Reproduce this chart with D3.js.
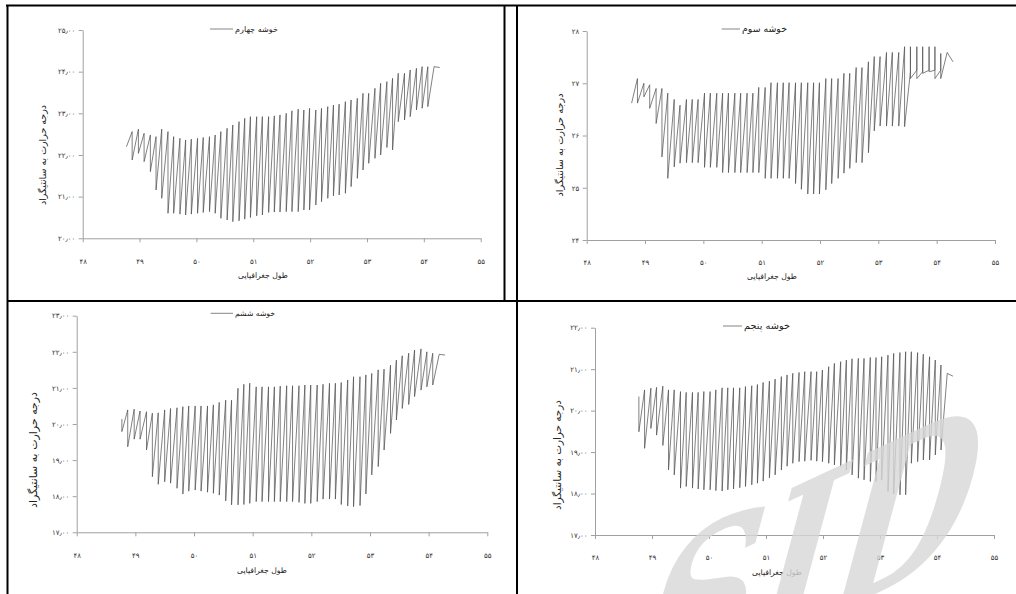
<!DOCTYPE html>
<html>
<head>
<meta charset="utf-8">
<script src="https://cdn.jsdelivr.net/npm/d3@7"></script>
<style>
body { margin: 0; background: #fff; }
svg { display: block; }
text { font-family: "DejaVu Sans", sans-serif; }
</style>
</head>
<body>
<svg width="1016" height="594"></svg>
<script>
// longitude of each grid column (same for every cluster)
const lon = [48.77, 48.87, 48.98, 49.08, 49.19, 49.29, 49.39, 49.50, 49.60, 49.71,
    49.81, 49.91, 50.02, 50.12, 50.23, 50.33, 50.43, 50.54, 50.64, 50.75,
    50.85, 50.95, 51.06, 51.16, 51.27, 51.37, 51.47, 51.58, 51.68, 51.79,
    51.89, 51.99, 52.10, 52.20, 52.31, 52.41, 52.51, 52.62, 52.72, 52.83,
    52.93, 53.03, 53.14, 53.24, 53.35, 53.45, 53.55, 53.66, 53.76, 53.87,
    53.97, 54.07, 54.18, 54.28];

// temperatures met along each column, in drawing order
const cluster4 = [[22.20], [22.56, 21.88], [22.62, 22.04], [22.52, 21.84], [22.48, 21.60],
    [22.44, 21.16], [22.62, 20.96], [22.56, 20.60], [22.44, 20.60], [22.40, 20.58],
    [22.36, 20.56], [22.38, 20.58], [22.40, 20.60], [22.42, 20.62], [22.44, 20.64],
    [22.48, 20.60], [22.56, 20.48], [22.64, 20.44], [22.72, 20.40], [22.80, 20.42],
    [22.88, 20.46], [22.92, 20.50], [22.92, 20.54], [22.92, 20.56], [22.92, 20.62],
    [22.94, 20.63], [22.96, 20.63], [23.00, 20.64], [23.06, 20.64], [23.10, 20.64],
    [23.08, 20.68], [23.12, 20.68], [23.08, 20.80], [23.12, 20.88], [23.16, 20.96],
    [23.20, 21.02], [23.22, 21.04], [23.28, 21.08], [23.32, 21.24], [23.36, 21.44],
    [23.48, 21.64], [23.48, 21.80], [23.60, 21.92], [23.72, 22.00], [23.76, 22.18],
    [23.84, 22.12], [23.96, 22.80], [23.96, 22.84], [24.04, 22.92], [24.08, 23.08],
    [24.12, 23.12], [24.12, 23.16], [24.12], [24.10]];

const cluster3 = [[26.62], [27.09, 26.62], [27.00, 26.74], [26.97, 26.52], [26.90, 26.23],
    [26.90, 25.59], [26.81, 25.18], [26.69, 25.40], [26.58, 25.47], [26.69, 25.48],
    [26.69, 25.48], [26.69, 25.48], [26.81, 25.39], [26.81, 25.39], [26.81, 25.39],
    [26.81, 25.29], [26.81, 25.29], [26.81, 25.29], [26.81, 25.29], [26.81, 25.29],
    [26.81, 25.29], [26.92, 25.29], [26.92, 25.18], [27.01, 25.18], [27.01, 25.18],
    [27.01, 25.18], [27.01, 25.18], [27.01, 25.08], [27.01, 24.97], [27.01, 24.88],
    [27.01, 24.88], [27.01, 24.88], [27.09, 24.96], [27.09, 25.08], [27.09, 25.18],
    [27.19, 25.28], [27.19, 25.37], [27.30, 25.48], [27.30, 25.48], [27.41, 25.67],
    [27.51, 26.09], [27.51, 26.18], [27.59, 26.18], [27.59, 26.18], [27.59, 26.18],
    [27.70, 26.17], [27.22, 27.70, 27.09], [27.25, 27.70, 27.09], [27.22, 27.70, 27.19],
    [27.25, 27.70, 27.22], [27.25, 27.70, 27.09], [27.25, 27.57, 27.09], [27.59], [27.41]];

const cluster6 = [[20.14, 19.79], [20.39, 19.37], [20.41, 19.58], [20.36, 19.58], [20.34, 19.28],
    [20.30, 18.54], [20.31, 18.33], [20.39, 18.40], [20.43, 18.36], [20.45, 18.22],
    [20.48, 18.06], [20.50, 18.14], [20.50, 18.17], [20.50, 18.14], [20.50, 18.11],
    [20.53, 18.08], [20.60, 18.03], [20.66, 17.87], [20.66, 17.76], [20.99, 17.76],
    [21.10, 17.77], [21.13, 17.80], [21.03, 17.85], [21.03, 17.85], [21.03, 17.85],
    [21.03, 17.85], [21.05, 17.85], [21.06, 17.85], [21.06, 17.85], [21.06, 17.83],
    [21.08, 17.80], [21.08, 17.80], [21.08, 17.85], [21.10, 17.92], [21.13, 17.92],
    [21.13, 17.92], [21.15, 17.77], [21.22, 17.73], [21.31, 17.71], [21.31, 17.74],
    [21.36, 18.06], [21.40, 18.59], [21.50, 18.82], [21.52, 19.28], [21.63, 19.74],
    [21.77, 20.11], [21.89, 20.43], [21.96, 20.54], [22.05, 20.76], [22.08, 20.94],
    [22.00, 21.03], [21.96, 21.08], [21.93], [21.91]];

const cluster5 = [[20.34, 19.49], [20.50, 19.09], [20.54, 19.57], [20.56, 19.41], [20.59, 19.16],
    [20.50, 18.57], [20.50, 18.45], [20.46, 18.13], [20.44, 18.17], [20.44, 18.13],
    [20.44, 18.11], [20.46, 18.09], [20.46, 18.09], [20.50, 18.07], [20.55, 18.06],
    [20.55, 18.09], [20.55, 18.11], [20.55, 18.14], [20.58, 18.17], [20.60, 18.21],
    [20.63, 18.25], [20.68, 18.30], [20.71, 18.38], [20.76, 18.45], [20.82, 18.57],
    [20.86, 18.66], [20.90, 18.73], [20.92, 18.77], [20.94, 18.78], [20.94, 18.80],
    [20.94, 18.78], [20.98, 18.77], [21.06, 18.73], [21.14, 18.69], [21.18, 18.65],
    [21.22, 18.57], [21.25, 18.45], [21.26, 18.37], [21.26, 18.33], [21.28, 18.29],
    [21.28, 18.29], [21.30, 18.33], [21.34, 18.05], [21.38, 17.99], [21.40, 17.97],
    [21.42, 17.97], [21.42, 18.73], [21.40, 18.77], [21.36, 18.81], [21.30, 18.81],
    [21.22, 18.93], [21.10, 19.05], [20.90], [20.83]];

const xTicks = [48, 49, 50, 51, 52, 53, 54, 55];
const yTicks4 = [20, 21, 22, 23, 24, 25];
const yTicks3 = [24, 25, 26, 27, 28];
const yTicks6 = [17, 18, 19, 20, 21, 22, 23];
const yTicks5 = [17, 18, 19, 20, 21, 22];

const xTitle = 'طول جغرافیایی';
const yTitle = 'درجه حرارت به سانتیگراد';

const faDigits = '۰۱۲۳۴۵۶۷۸۹';

function toFa(s) {
    return String(s).replace(/[0-9]/g, function (d) {
        return faDigits[d];
    }).replace('.', '٫');
}

// shrink or grow a text until it is as wide as the one in the scan
function fitText(sel, width) {
    let w = sel.node().getComputedTextLength();
    let size = parseFloat(sel.style('font-size'));
    if (w > 0) {
        sel.style('font-size', (size * width / w).toFixed(2) + 'px');
    }
    return sel;
}

const panels = [
    {name: 'خوشه چهارم', data: cluster4, yDomain: [20, 25], yTicks: yTicks4, fmt: d3.format('.2f'),
        xr: [82.7, 480.7], yr: [238.3, 30], legend: [210, 233, 29, 43],
        yTitlePos: [43, 155, 100], xTitlePos: [263, 275]},
    {name: 'خوشه سوم', data: cluster3, yDomain: [24, 28], yTicks: yTicks3, fmt: d3.format('d'),
        xr: [586.7, 995], yr: [240, 31], legend: [721.7, 740, 29, 45],
        yTitlePos: [560, 145, 103], xTitlePos: [772, 276]},
    {name: 'خوشه ششم', data: cluster6, yDomain: [17, 23], yTicks: yTicks6, fmt: d3.format('.2f'),
        xr: [76.7, 487.3], yr: [532.3, 315.7], legend: [210.7, 233, 313.3, 40],
        yTitlePos: [33, 450, 116], xTitlePos: [262, 570]},
    {name: 'خوشه پنجم', data: cluster5, yDomain: [17, 22], yTicks: yTicks5, fmt: d3.format('.2f'),
        xr: [595, 994], yr: [535, 327.7], legend: [723, 742, 326, 46],
        yTitlePos: [557, 455, 110], xTitlePos: [777, 572]}
];

const svg = d3.select('svg');

function drawPanel(p) {
    let x = d3.scaleLinear().domain([48, 55]).range(p.xr);
    let y = d3.scaleLinear().domain(p.yDomain).range(p.yr);
    let g = svg.append('g');

    let yAxis = g.append('g')
        .attr('transform', 'translate(' + p.xr[0] + ',0)')
        .call(d3.axisLeft(y).tickValues(p.yTicks).tickSize(4).tickSizeOuter(0).tickPadding(3.5)
            .tickFormat(function (d) { return toFa(p.fmt(d)); }));

    let xAxis = g.append('g')
        .attr('transform', 'translate(0,' + p.yr[0] + ')')
        .call(d3.axisBottom(x).tickValues(xTicks).tickSize(4).tickSizeOuter(0).tickPadding(16.5)
            .tickFormat(function (d) { return toFa(d); }));

    [yAxis, xAxis].forEach(function (a) {
        a.select('.domain').attr('stroke', '#a0a0a0');
        a.selectAll('.tick line').attr('stroke', '#a0a0a0');
        a.selectAll('.tick text').attr('fill', '#333').style('font-size', '7px')
            .style('font-family', '"DejaVu Sans", sans-serif');
    });

    // the zigzag series
    let pts = [];
    p.data.forEach(function (col, i) {
        col.forEach(function (v) {
            pts.push([lon[i], v]);
        });
    });

    let line = d3.line()
        .x(function (d) { return x(d[0]); })
        .y(function (d) { return y(d[1]); });

    g.append('path')
        .datum(pts)
        .attr('d', line)
        .attr('fill', 'none')
        .attr('stroke', '#4a4a4a')
        .attr('stroke-width', 0.7);

    // legend
    g.append('line')
        .attr('x1', p.legend[0]).attr('x2', p.legend[1])
        .attr('y1', p.legend[2]).attr('y2', p.legend[2])
        .attr('stroke', '#666').attr('stroke-width', 0.8);
    let lt = g.append('text')
        .attr('x', p.legend[1] + 2 + p.legend[3] / 2).attr('y', p.legend[2])
        .attr('dy', '0.35em')
        .attr('text-anchor', 'middle')
        .style('font-size', '8px')
        .attr('fill', '#222')
        .text(p.name);
    fitText(lt, p.legend[3]);

    let xt = g.append('text')
        .attr('x', p.xTitlePos[0])
        .attr('y', p.xTitlePos[1])
        .attr('dy', '0.35em')
        .attr('text-anchor', 'middle')
        .style('font-size', '8px')
        .attr('fill', '#222')
        .text(xTitle);
    fitText(xt, 50);

    let yt = g.append('text')
        .attr('transform', 'translate(' + p.yTitlePos[0] + ',' + p.yTitlePos[1] + ') rotate(-90)')
        .attr('dy', '0.35em')
        .attr('text-anchor', 'middle')
        .style('font-size', '8px')
        .attr('fill', '#222')
        .text(yTitle);
    fitText(yt, p.yTitlePos[2]);
}

panels.forEach(drawPanel);

// table frame round the four charts
let frame = svg.append('g').attr('stroke', '#000').attr('stroke-width', 2);
frame.append('line').attr('x1', 6).attr('x2', 1016).attr('y1', 5.5).attr('y2', 5.5);
frame.append('line').attr('x1', 7.5).attr('x2', 7.5).attr('y1', 5).attr('y2', 594);
frame.append('line').attr('x1', 504.5).attr('x2', 504.5).attr('y1', 5).attr('y2', 301);
frame.append('line').attr('x1', 517).attr('x2', 517).attr('y1', 5).attr('y2', 594);
frame.append('line').attr('x1', 7).attr('x2', 1016).attr('y1', 301).attr('y2', 301);

// watermark of the scan
svg.append('text')
    .attr('transform', 'translate(622,712) rotate(-25) skewX(-40)')
    .style('font-family', '"DejaVu Serif", serif')
    .style('font-weight', 'bold')
    .style('font-size', '180px')
    .attr('fill', '#d8d8d8')
    .attr('opacity', 0.8)
    .text('SID');
</script>
</body>
</html>
